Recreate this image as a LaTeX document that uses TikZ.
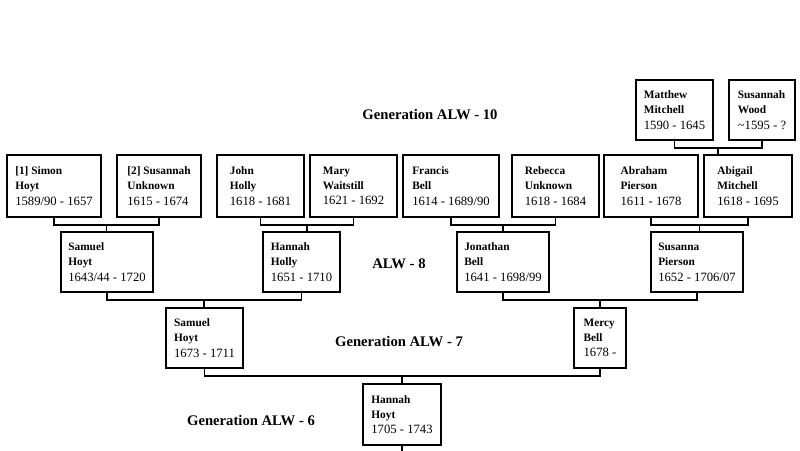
\documentclass[tikz,border=0pt]{standalone}
\usepackage{fontspec}
\setmainfont{Liberation Serif}

\newcommand\who[1]{{\fontsize{8.5}{11.5}\selectfont\bfseries #1}}
\newcommand\family[3]{%
  \draw[link] (#1.south) -- ++(0,7) -| (#2.south);
  \path (#1.south) -- (#2.south) coordinate[pos=.5] (mid);
  \draw[link] ([yshift=-5.25pt]mid) -- (#3.north -| mid);}

\begin{document}
\begin{tikzpicture}[x=0.75pt,y=-0.75pt,
    person/.style={draw, line width=1.4pt, align=left, inner sep=0pt, minimum height=45pt, font=\fontsize{9.5}{11.5}\selectfont},
    gen/.style={font=\fontsize{11}{13}\selectfont\bfseries},
    link/.style={line width=1.4pt}]
  \useasboundingbox (0,0) rectangle (800,450);
  % generation 10
  \node[person, minimum width=57.75pt] (matthew) at (674.5,110) {\who{Matthew}\\\who{Mitchell}\\1590 - 1645};
  \node[person, minimum width=49.5pt] (susannahw) at (762,110) {\who{Susannah}\\\who{Wood}\\\textasciitilde1595 - ?};
  % generation 9
  \node[person, minimum width=70.5pt, minimum height=46.5pt] (simon) at (54,186) {\who{[1] Simon}\\\who{Hoyt}\\1589/90 - 1657};
  \node[person, minimum width=63pt, minimum height=46.5pt] (susannahu) at (159,186) {\who{[2] Susannah}\\\who{Unknown}\\1615 - 1674};
  \node[person, minimum width=65.25pt, minimum height=46.5pt] (john) at (260.5,186) {\who{John}\\\who{Holly}\\1618 - 1681};
  \node[person, minimum width=65.25pt, minimum height=46.5pt] (mary) at (353.5,186) {\who{Mary}\\\who{Waitstill}\\1621 - 1692};
  \node[person, minimum width=72pt, minimum height=46.5pt] (francis) at (451,186) {\who{Francis}\\\who{Bell}\\1614 - 1689/90};
  \node[person, minimum width=65.25pt, minimum height=46.5pt] (rebecca) at (555.5,186) {\who{Rebecca}\\\who{Unknown}\\1618 - 1684};
  \node[person, minimum width=70.5pt, minimum height=46.5pt] (abraham) at (651,186) {\who{Abraham}\\\who{Pierson}\\1611 - 1678};
  \node[person, minimum width=66pt, minimum height=46.5pt] (abigail) at (748,186) {\who{Abigail}\\\who{Mitchell}\\1618 - 1695};
  % generation 8
  \node[person, minimum width=69pt] (samuelh) at (107,262) {\who{Samuel}\\\who{Hoyt}\\1643/44 - 1720};
  \node[person, minimum width=57.75pt] (hannahh) at (301.5,262) {\who{Hannah}\\\who{Holly}\\1651 - 1710};
  \node[person, minimum width=69pt] (jonathan) at (503,262) {\who{Jonathan}\\\who{Bell}\\1641 - 1698/99};
  \node[person, minimum width=69pt] (susanna) at (697,262) {\who{Susanna}\\\who{Pierson}\\1652 - 1706/07};
  % generation 7
  \node[person, minimum width=57.75pt] (samuel) at (204.5,338) {\who{Samuel}\\\who{Hoyt}\\1673 - 1711};
  \node[person, minimum width=39pt] (mercy) at (600,338) {\who{Mercy}\\\who{Bell}\\1678 -};
  % generation 6
  \node[person, minimum width=58.5pt, minimum height=45.75pt] (hannah) at (402,414.5) {\who{Hannah}\\\who{Hoyt}\\1705 - 1743};
  \coordinate (stub) at (402,452);

  \node[gen] (g10) at (430,115) {Generation ALW - 10};
  \node[gen] (g8) at (399,264) {ALW - 8};
  \node[gen] (g7) at (399,342) {Generation ALW - 7};
  \node[gen] (g6) at (251,421) {Generation ALW - 6};

  % links
  \foreach \a/\b/\c in {matthew/susannahw/abigail, simon/susannahu/samuelh, john/mary/hannahh,
      francis/rebecca/jonathan, abraham/abigail/susanna, samuelh/hannahh/samuel,
      jonathan/susanna/mercy, samuel/mercy/hannah}
    {\family{\a}{\b}{\c}}
  \draw[link] (hannah.south) -- (stub);
\end{tikzpicture}
\end{document}
